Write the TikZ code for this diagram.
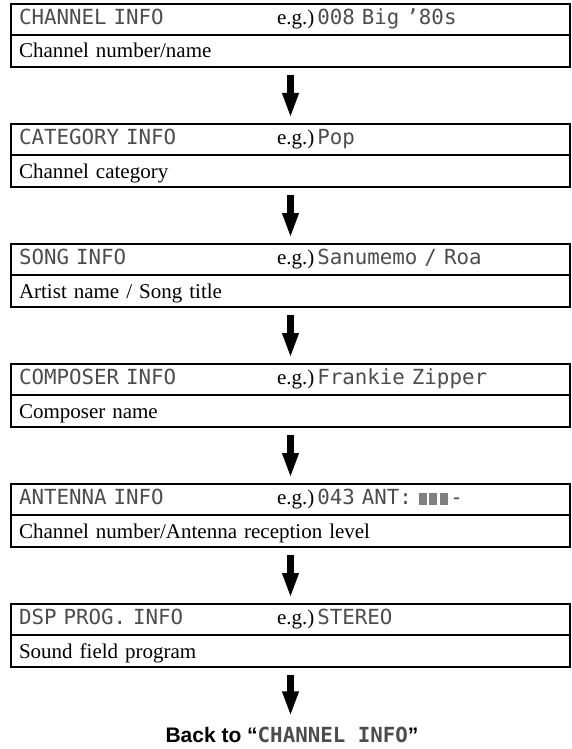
\documentclass[tikz,border=0pt]{standalone}
\usepackage{fontspec}
\setmainfont{Liberation Serif}
\newfontfamily\lcdfont[WordSpace={1,0,0}]{DejaVu Sans Mono}
\newfontfamily\labelfont{Liberation Sans}
\usetikzlibrary{positioning,arrows.meta}
\newcommand{\lcd}[1]{{\lcdfont\fontsize{20.8pt}{24pt}\selectfont\color{black!70}#1}}
\newcommand{\antbar}{{\color{black!50}\rule{8pt}{12pt}}\hspace{2.5pt}}

\begin{document}
\begin{tikzpicture}[
    x=1pt, y=-1pt,
    font=\fontsize{21pt}{25pt}\selectfont,
    row/.style={
      draw, line width=2pt, outer sep=0pt, inner xsep=8pt, inner ysep=0pt,
      text width=543pt, align=left
    },
    inforow/.style={row, text height=20.5pt, text depth=10.5pt},
    descrow/.style={row, text height=23pt, text depth=9pt},
    flow/.style={-{Triangle[width=15pt,length=25pt]}, line width=7pt,
      shorten <=8pt, shorten >=6pt},
  ]
  \def\pitch{120}
  \def\egpos{258pt}

  \useasboundingbox (0,0) rectangle (571,749);

  % --- Channel ---
  \node[inforow] (info1) at (290.5, 19.5) {\makebox[\egpos][l]{\lcd{CHANNEL INFO}}e.g.)\hspace{3pt}\lcd{008 Big ’80s}};
  \node[descrow, below=0pt of info1] (desc1) {Channel number/name};

  % --- Category ---
  \node[inforow] (info2) at (290.5, 19.5+\pitch) {\makebox[\egpos][l]{\lcd{CATEGORY INFO}}e.g.)\hspace{3pt}\lcd{Pop}};
  \node[descrow, below=0pt of info2] (desc2) {Channel category};

  % --- Song ---
  \node[inforow] (info3) at (290.5, 19.5+2*\pitch) {\makebox[\egpos][l]{\lcd{SONG INFO}}e.g.)\hspace{3pt}\lcd{Sanumemo / Roa}};
  \node[descrow, below=0pt of info3] (desc3) {Artist name / Song title};

  % --- Composer ---
  \node[inforow] (info4) at (290.5, 19.5+3*\pitch) {\makebox[\egpos][l]{\lcd{COMPOSER INFO}}e.g.)\hspace{3pt}\lcd{Frankie Zipper}};
  \node[descrow, below=0pt of info4] (desc4) {Composer name};

  % --- Antenna ---
  \node[inforow] (info5) at (290.5, 19.5+4*\pitch) {\makebox[\egpos][l]{\lcd{ANTENNA INFO}}e.g.)\hspace{3pt}\lcd{043 ANT: }\antbar\antbar\antbar\lcd{-}};
  \node[descrow, below=0pt of info5] (desc5) {Channel number/Antenna reception level};

  % --- DSP program ---
  \node[inforow] (info6) at (290.5, 19.5+5*\pitch) {\makebox[\egpos][l]{\lcd{DSP PROG. INFO}}e.g.)\hspace{3pt}\lcd{STEREO}};
  \node[descrow, below=0pt of info6] (desc6) {Sound field program};

  % Arrows between boxes
  \foreach \i [evaluate=\i as \j using int(\i+1)] in {1,...,5} {
    \draw[flow] (desc\i.south) -- (info\j.north);
  }

  % Back to the start
  \node[anchor=base, inner sep=0pt] (back) at (292, 742) {\labelfont\bfseries Back to “\lcd{CHANNEL INFO}”};
  \draw[flow, shorten >=10pt] (desc6.south) -- (desc6.south |- back.north);
\end{tikzpicture}
\end{document}
